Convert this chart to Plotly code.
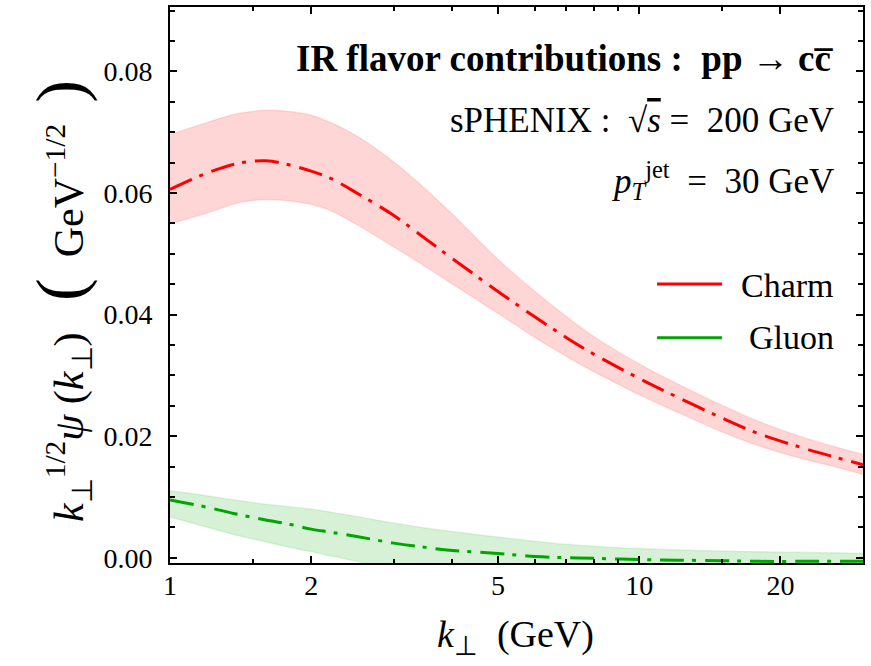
import plotly.graph_objects as go

# ---- data ----
k_perp = [1, 1.2, 1.4, 1.6, 1.8, 2, 2.2, 2.5, 3, 3.5, 4, 5, 6, 7, 8, 10, 12, 15, 18, 22, 26, 30]

charm_c = [0.0606, 0.0633, 0.0649, 0.0653, 0.0646, 0.0636, 0.0624, 0.0600, 0.0563, 0.0525, 0.0492,
           0.0438, 0.0396, 0.0362, 0.0335, 0.0295, 0.0265, 0.0230, 0.0204, 0.0182, 0.0166, 0.0153]
charm_hi = [0.0696, 0.0716, 0.0731, 0.0736, 0.0734, 0.0728, 0.0716, 0.0694, 0.0651, 0.0607, 0.0565,
            0.0491, 0.0438, 0.0397, 0.0364, 0.0319, 0.0287, 0.0251, 0.0224, 0.0200, 0.0183, 0.0170]
charm_lo = [0.0549, 0.0567, 0.0584, 0.0589, 0.0587, 0.0581, 0.0571, 0.0548, 0.0511, 0.0479, 0.0450,
            0.0402, 0.0362, 0.0331, 0.0306, 0.0268, 0.0240, 0.0207, 0.0184, 0.0164, 0.0150, 0.0137]

gluon_c = [0.0095, 0.0083, 0.0071, 0.0062, 0.0055, 0.0047, 0.0042, 0.0035, 0.0024, 0.0017, 0.0012,
           0.0007, 0.0002, 0.0000, -0.0001, -0.0003, -0.0004, -0.0005, -0.0006, -0.0006, -0.0006, -0.0006]
gluon_hi = [0.0110, 0.0102, 0.0094, 0.0088, 0.0084, 0.0080, 0.0075, 0.0068, 0.0057, 0.0049, 0.0043,
            0.0034, 0.0027, 0.0022, 0.0019, 0.0015, 0.0013, 0.0011, 0.0010, 0.0009, 0.0008, 0.0007]
gluon_lo = [0.0067, 0.0050, 0.0036, 0.0026, 0.0017, 0.0010, 0.0003, -0.0006, -0.0018, -0.0026, -0.0031,
            -0.0035, -0.0036, -0.0036, -0.0035, -0.0033, -0.0031, -0.0029, -0.0027, -0.0025, -0.0023, -0.0021]

x_major = [1, 2, 5, 10, 20]
x_major_text = ["1", "2", "5", "10", "20"]
x_minor = [1.5, 3, 4, 6, 7, 8, 9, 15]
y_major = [0.0, 0.02, 0.04, 0.06, 0.08]
y_major_text = ["0.00", "0.02", "0.04", "0.06", "0.08"]

series = [
    ("Charm", charm_c, charm_hi, charm_lo, "#FF0000", "rgba(255,0,0,0.16)", "rgba(255,0,0,0.10)"),
    ("Gluon", gluon_c, gluon_hi, gluon_lo, "#00A600", "rgba(0,170,0,0.16)", "rgba(0,170,0,0.10)"),
]

FONT = "Liberation Serif, Times New Roman, serif"

fig = go.Figure()
for name, c, hi, lo, col, fillc, edgec in series:
    fig.add_trace(go.Scatter(x=k_perp, y=hi, mode="lines", line=dict(color=edgec, width=1.5, shape="spline"),
                             showlegend=False, hoverinfo="skip"))
    fig.add_trace(go.Scatter(x=k_perp, y=lo, mode="lines", line=dict(color=edgec, width=1.5, shape="spline"),
                             fill="tonexty", fillcolor=fillc, showlegend=False, hoverinfo="skip"))
for name, c, hi, lo, col, fillc, edgec in series:
    fig.add_trace(go.Scatter(x=k_perp, y=c, mode="lines", name=name,
                             line=dict(color=col, width=3, dash="24px,8px,4px,9px", shape="spline"),
                             showlegend=False))

L, R, T, B = 170, 8, 5, 103
W, H = 871, 666
pw, ph = W - L - R, H - T - B


def px(xp):
    return (xp - L) / pw


def py(yp):
    return (H - B - yp) / ph


axis_common = dict(showline=True, linewidth=2, linecolor="black", mirror="ticks", ticks="inside",
                   tickcolor="black", tickwidth=1.5, showgrid=False, zeroline=False,
                   tickfont=dict(family=FONT, size=28, color="black"))

fig.update_xaxes(type="log", range=[0, 1.4771], tickmode="array", tickvals=x_major, ticktext=x_major_text,
                 ticklen=7, ticklabelstandoff=-4,
                 minor=dict(tickmode="array", tickvals=x_minor, ticks="inside", ticklen=4, tickcolor="black",
                            tickwidth=1.5, showgrid=False),
                 **axis_common)
fig.update_yaxes(range=[-0.00087, 0.0906], tickmode="array", tickvals=y_major, ticktext=y_major_text,
                 ticklen=7, ticklabelstandoff=10,
                 minor=dict(tick0=0, dtick=0.005, ticks="inside", ticklen=5, tickcolor="black",
                            tickwidth=1.5, showgrid=False),
                 **axis_common)

NB = "\u00a0"
anns = [
    dict(text="<b>IR flavor contributions :  pp → cc\u0305</b>", x=px(836), y=py(57), size=37),
    dict(text="sPHENIX :" + NB * 2 + "√<span style='text-decoration:overline'><i>s</i></span>" + NB + "=" + NB * 2 + "200 GeV",
         x=px(836), y=py(119), size=35),
    dict(text="<i>p</i><sub><i>T</i></sub><sup>jet</sup>" + NB * 2 + "=" + NB * 2 + "30 GeV", x=px(836), y=py(179), size=35),
    dict(text="Charm", x=px(836), y=py(284), size=34),
    dict(text="Gluon", x=px(836), y=py(337), size=34),
]
for a in anns:
    fig.add_annotation(text=a["text"], x=a["x"], y=a["y"], xref="paper", yref="paper", xanchor="right",
                       yanchor="middle", showarrow=False, font=dict(family=FONT, size=a["size"], color="black"))

# legend samples
for yy, col in [(283, "#FF0000"), (337, "#00A600")]:
    fig.add_shape(type="line", xref="paper", yref="paper", x0=px(657), x1=px(722), y0=py(yy), y1=py(yy),
                  line=dict(color=col, width=3))

# axis titles
fig.add_annotation(text="<i>k</i><sub>⊥</sub>" + NB * 2 + "(GeV)", x=px(515), y=py(637), xref="paper", yref="paper",
                   xanchor="center", yanchor="middle",
                   showarrow=False, font=dict(family=FONT, size=38, color="black"))
fig.add_annotation(text="<i>k</i><sub>⊥</sub><sup>1/2</sup><i>ψ</i>" + NB + "(<i>k</i><sub>⊥</sub>)" + NB * 3 +
                        "<span style='font-size:68px'>(</span>" + NB * 2 + "GeV<sup>−1/2</sup>" + NB * 2 +
                        "<span style='font-size:68px'>)</span>",
                   x=px(60), y=py(300), xref="paper", yref="paper", textangle=-90,
                   xanchor="center", yanchor="middle",
                   showarrow=False, font=dict(family=FONT, size=42, color="black"))

fig.update_layout(width=W, height=H, margin=dict(l=L, r=R, t=T, b=B), plot_bgcolor="white",
                  paper_bgcolor="white", showlegend=False)

fig.write_html("out.html")
